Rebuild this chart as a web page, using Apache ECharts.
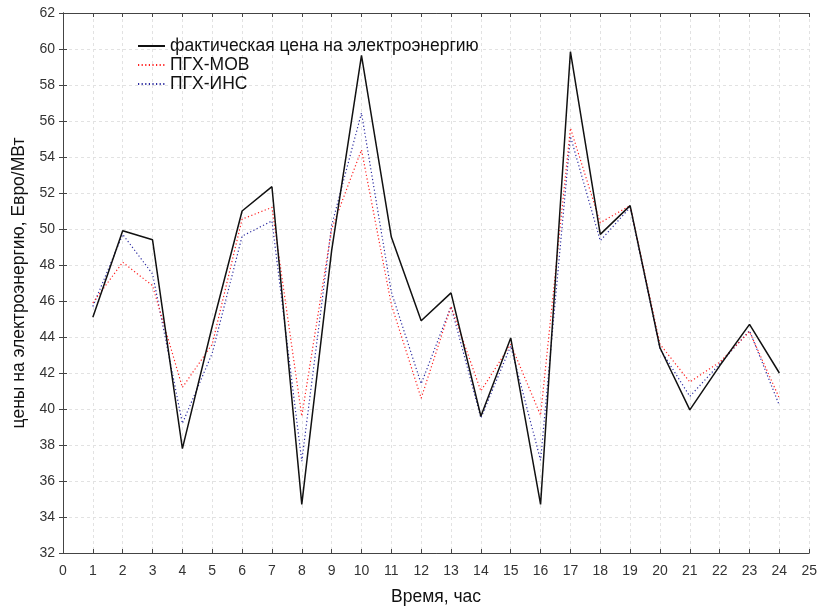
<!DOCTYPE html>
<html><head><meta charset="utf-8">
<script src="https://cdn.jsdelivr.net/npm/echarts@6/dist/echarts.min.js"></script>
<style>html,body{margin:0;padding:0;background:#fff}#c{width:820px;height:611px}</style>
</head><body><div id="c"></div>
<script>
const hours = [1,2,3,4,5,6,7,8,9,10,11,12,13,14,15,16,17,18,19,20,21,22,23,24];
const actual = [45.1,49.9,49.4,37.8,44.6,51.0,52.35,34.7,48.8,59.65,49.55,44.9,46.45,39.6,43.95,34.7,59.85,49.7,51.3,43.4,39.95,42.4,44.7,42.0];
const mov = [45.9,48.15,46.85,41.2,43.6,50.55,51.2,39.6,50.0,54.4,45.8,40.6,45.7,41.0,43.6,39.65,55.6,50.35,51.3,43.6,41.5,42.6,44.3,40.6];
const ins = [45.7,49.7,47.5,39.2,43.1,49.6,50.45,37.1,50.2,56.45,46.5,41.4,45.7,39.5,43.5,37.15,55.15,49.35,51.2,43.35,40.7,42.5,44.35,40.2];
const seriesNames = ['фактическая цена на электроэнергию','ПГХ-МОВ','ПГХ-ИНС'];
const xName = 'Время, час';
const yName = 'цены на электроэнергию, Евро/МВт';

const pair = v => hours.map((h,i)=>[h,v[i]]);
const font = 'Liberation Sans, Arial, sans-serif';
const axisLine = {show:true, lineStyle:{color:'#444', width:1}};
const tick = {show:true, inside:true, length:4, lineStyle:{color:'#444'}};
const split = {show:true, lineStyle:{color:'#e2e2e2', type:[3,3], width:1}};

const chart = echarts.init(document.getElementById('c'), null, {renderer:'canvas'});
chart.setOption({
  animation:false,
  backgroundColor:'#fff',
  grid:{left:63, right:4, top:13, bottom:53, containLabel:false},
  legend:{
    orient:'vertical', left:132, top:32, itemWidth:27, itemHeight:12, itemGap:1,
    itemStyle:{opacity:0},
    textStyle:{fontFamily:font, fontSize:17.5, color:'#111', lineHeight:17},
    data:seriesNames
  },
  xAxis:[
    {type:'value', min:0, max:25, interval:1, axisLine:axisLine, axisTick:tick, splitLine:split,
     axisLabel:{fontFamily:font, fontSize:14, color:'#333', margin:11},
     name:xName, nameLocation:'middle', nameGap:35, nameTextStyle:{fontFamily:font, fontSize:17.5, color:'#111'}},
    {type:'value', position:'top', min:0, max:25, interval:1, axisLine:axisLine, axisTick:tick,
     axisLabel:{show:false}, splitLine:{show:false}}
  ],
  yAxis:[
    {type:'value', min:32, max:62, interval:2, axisLine:axisLine, axisTick:tick, splitLine:split,
     axisLabel:{fontFamily:font, fontSize:14, color:'#333', margin:8},
     name:yName, nameLocation:'middle', nameGap:34, nameTextStyle:{fontFamily:font, fontSize:17.5, color:'#111'}},
    {type:'value', position:'right', min:32, max:62, interval:2, axisLine:axisLine, axisTick:tick,
     axisLabel:{show:false}, splitLine:{show:false}}
  ],
  series:[
    {name:seriesNames[0], type:'line', data:pair(actual), symbol:'none', z:5,
     lineStyle:{color:'#111', width:1.5}, itemStyle:{color:'#111'}},
    {name:seriesNames[1], type:'line', data:pair(mov), symbol:'none', z:4,
     lineStyle:{color:'#ff2020', width:1.2, type:[1.2,2.4]}, itemStyle:{color:'#ff2020'}},
    {name:seriesNames[2], type:'line', data:pair(ins), symbol:'none', z:3,
     lineStyle:{color:'#2a2aa0', width:1.2, type:[1.2,2.4]}, itemStyle:{color:'#2a2aa0'}}
  ]
});
</script></body></html>
